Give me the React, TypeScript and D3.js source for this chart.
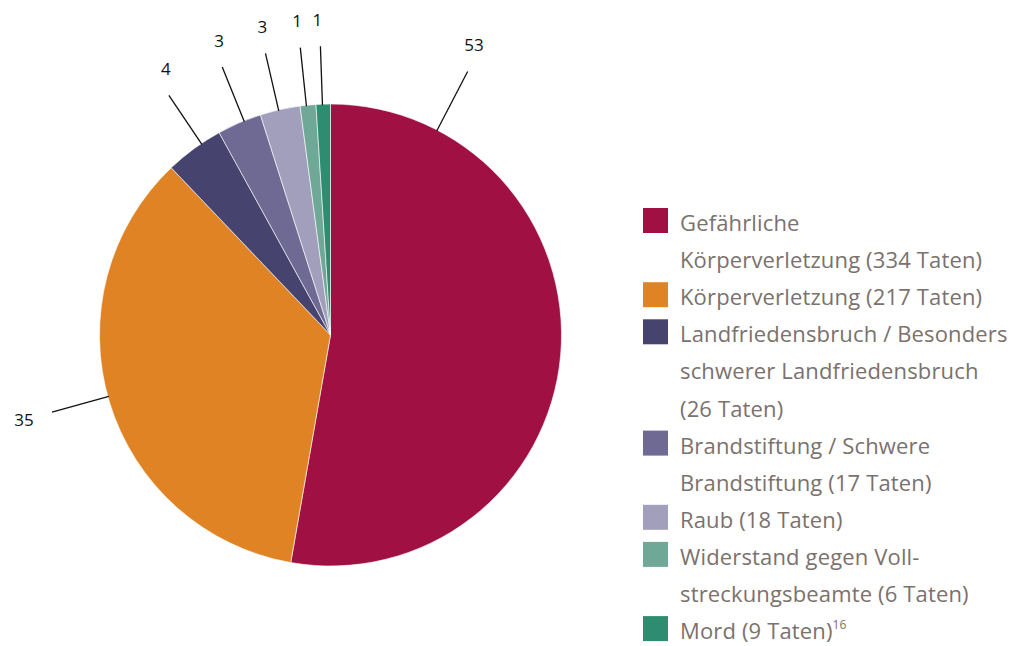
import React from 'react';
import * as d3 from 'd3';

// shares in percent, clockwise from 12 o'clock
const categories = [
  'Gefährliche Körperverletzung',
  'Körperverletzung',
  'Landfriedensbruch',
  'Brandstiftung',
  'Raub',
  'Widerstand',
  'Mord',
];
const shares = [52.7, 35.1, 4.1, 3.1, 2.8, 1.1, 1.0];
const shareLabels = ['53', '35', '4', '3', '3', '1', '1'];
const colors = ['#a01043', '#e08324', '#46436f', '#6f6a93', '#a29fbd', '#6fa896', '#2e8c70'];

// legend rows: [colour index or -1 for continuation line, text]
const legendLines: [number, string][] = [
  [0, 'Gefährliche'],
  [-1, 'Körperverletzung (334 Taten)'],
  [1, 'Körperverletzung (217 Taten)'],
  [2, 'Landfriedensbruch / Besonders'],
  [-1, 'schwerer Landfriedensbruch'],
  [-1, '(26 Taten)'],
  [3, 'Brandstiftung / Schwere'],
  [-1, 'Brandstiftung (17 Taten)'],
  [4, 'Raub (18 Taten)'],
  [5, 'Widerstand gegen Voll-'],
  [-1, 'streckungsbeamte (6 Taten)'],
  [6, 'Mord (9 Taten)'],
];

// leader line angle overrides (degrees, clockwise from top); null = slice middle
const leaderAngles: (number | null)[] = [27.5, 254.5, 326, 338, 347, 354, 358];

const cx = 330.5;
const cy = 335;
const radius = 231;

export default function App() {
  const pie = d3
    .pie<number>()
    .sort(null)
    .value((d) => d);
  const arcs = pie(shares);
  const arc = d3.arc<d3.PieArcDatum<number>>().innerRadius(0).outerRadius(radius);

  const polar = (deg: number, r: number) => {
    const a = (deg * Math.PI) / 180;
    return [cx + r * Math.sin(a), cy - r * Math.cos(a)];
  };

  return (
    <svg width={1011} height={646} style={{ position: 'absolute', left: 0, top: 0 }}>
      <rect width={1011} height={646} fill="#fff" />
      <g transform={`translate(${cx},${cy})`}>
        {arcs.map((a, i) => (
          <path key={categories[i]} d={arc(a) ?? ''} fill={colors[i]} stroke="#fff" strokeWidth={0.6} />
        ))}
      </g>
      {arcs.map((a, i) => {
        const mid = ((a.startAngle + a.endAngle) / 2) * (180 / Math.PI);
        const ang = leaderAngles[i] ?? mid;
        const rad = (ang * Math.PI) / 180;
        const s = Math.sin(rad);
        const c = Math.cos(rad);
        const [x1, y1] = polar(ang, radius - 1);
        const [x2, y2] = polar(ang, i === 0 ? 297 : 289);
        const half = shareLabels[i].length * 4.5;
        let tx: number;
        let ty: number;
        if (Math.abs(c) > 0.7) {
          tx = x2 + Math.sign(s) * half * 0.7;
          ty = y2 - Math.sign(c) * 27;
        } else {
          tx = x2 + Math.sign(s) * (half + 19);
          ty = y2 - c * 26;
        }
        return (
          <g key={'l' + i}>
            <line x1={x1} y1={y1} x2={x2} y2={y2} stroke="#111" strokeWidth={1.3} />
            <text
              x={tx}
              y={ty}
              textAnchor="middle"
              dominantBaseline="central"
              fontFamily="'Open Sans', sans-serif"
              fontSize={17}
              fill="#111"
            >
              {shareLabels[i]}
            </text>
          </g>
        );
      })}
      <g fontFamily="'Open Sans', sans-serif" fontSize={22} letterSpacing={0.15} fill="#7b716d">
        {legendLines.map(([c, t], i) => {
          const base = 231 + i * 37.1;
          return (
            <g key={'g' + i}>
              {c >= 0 && <rect x={643} y={base - 23} width={25} height={25} fill={colors[c]} />}
              <text x={680} y={base}>
                {t}
                {i === legendLines.length - 1 && (
                  <tspan fontSize={12} dy={-10} letterSpacing={0}>
                    16
                  </tspan>
                )}
              </text>
            </g>
          );
        })}
      </g>
    </svg>
  );
}
